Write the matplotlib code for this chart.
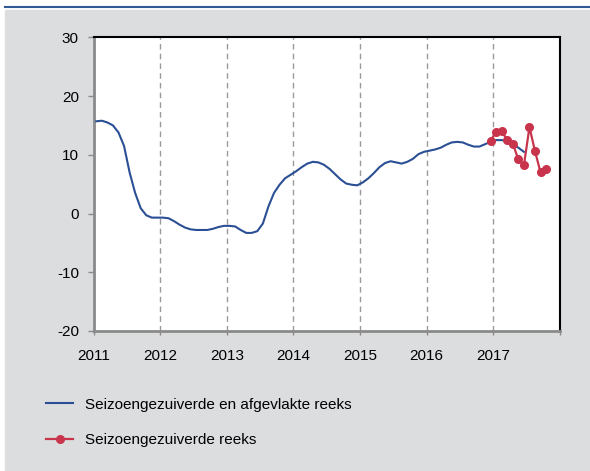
import matplotlib
matplotlib.use("Agg")
import matplotlib.pyplot as plt
from matplotlib.lines import Line2D
from matplotlib.patches import Rectangle
import numpy as np

plt.rcParams["font.family"] = ["Liberation Sans", "DejaVu Sans"]
plt.rcParams["axes.unicode_minus"] = False

# monthly series, plotted mid-month; smoothed series starts Jan 2011
smooth_start = 2011
smooth_vals = [
    15.7, 15.8, 15.5, 15.0, 13.8, 11.5, 7.0, 3.5, 0.9, -0.3, -0.7, -0.7,
    -0.7, -0.8, -1.3, -1.9, -2.4, -2.7, -2.8, -2.8, -2.8, -2.6, -2.3, -2.1,
    -2.1, -2.2, -2.8, -3.3, -3.3, -3.0, -1.7, 1.2, 3.5, 4.9, 6.0, 6.6,
    7.2, 7.9, 8.5, 8.8, 8.7, 8.3, 7.6, 6.7, 5.8, 5.1, 4.9, 4.8,
    5.3, 6.0, 6.9, 7.9, 8.6, 8.9, 8.7, 8.5, 8.8, 9.3, 10.1, 10.5,
    10.7, 10.9, 11.2, 11.7, 12.1, 12.2, 12.1, 11.7, 11.4, 11.4, 11.8, 12.2,
    12.5, 12.5, 12.3, 11.8, 11.2, 10.5,
]
# seasonally adjusted series, Dec 2016 - Oct 2017
raw_start = 2016 + 11 / 12
raw_vals = [12.4, 13.9, 14.0, 12.5, 11.9, 9.2, 8.2, 14.7, 10.6, 7.0, 7.6]

years = [2011, 2012, 2013, 2014, 2015, 2016, 2017]
labels = ["Seizoengezuiverde en afgevlakte reeks", "Seizoengezuiverde reeks"]

blue = "#2b4f94"
red = "#c8344c"
grey_bg = "#dcdddf"

smooth_x = smooth_start + (np.arange(len(smooth_vals)) + 0.5) / 12
raw_x = raw_start + (np.arange(len(raw_vals)) + 0.5) / 12

fig = plt.figure(figsize=(5.9, 4.71), dpi=100, facecolor="white")
fig.patches.append(Rectangle((5 / 590, 0), 585 / 590, 1 - 10 / 471,
                             transform=fig.transFigure, color=grey_bg, zorder=-5))
fig.lines.append(Line2D([5 / 590, 1], [1 - 6.5 / 471] * 2, transform=fig.transFigure,
                        color="#2f5a96", lw=1.5))

ax = fig.add_axes([93.5 / 590, 1 - 331 / 471, 466.5 / 590, 293.7 / 471])
ax.set_facecolor("white")

ax.plot(smooth_x, smooth_vals, color=blue, lw=1.5, zorder=3)
ax.plot(raw_x, raw_vals, color=red, lw=1.6, marker="o", ms=5.5, zorder=4)

for y in years[1:]:
    ax.axvline(y, color="#9a9a9a", lw=1, ls=(0, (4, 3)), zorder=1)

ax.set_xlim(2011, 2018)
ax.set_ylim(-20, 30)
ax.set_yticks(range(-20, 31, 10))
ax.set_xticks(years + [2018])
ax.set_xticklabels([str(y) for y in years] + [""])

for side in ["left", "bottom"]:
    ax.spines[side].set_color("#8a8a8a")
    ax.spines[side].set_linewidth(2)
for side in ["top", "right"]:
    ax.spines[side].set_color("black")
    ax.spines[side].set_linewidth(1.5)

ax.tick_params(axis="y", direction="out", length=4, width=1, color="#8a8a8a",
               labelsize=11, pad=6.5)
ax.tick_params(axis="x", direction="out", length=3, width=1, color="#8a8a8a",
               labelsize=11, pad=10)

handles = [
    Line2D([], [], color=blue, lw=1.5),
    Line2D([], [], color=red, lw=1.6, marker="o", ms=5.5),
]
fig.legend(handles, labels, loc="upper left", bbox_to_anchor=(32 / 590, 1 - 384 / 471),
           frameon=False, fontsize=11, handlelength=1.8, handletextpad=0.75,
           labelspacing=1.4)

fig.savefig("out.png", dpi=100, facecolor="white")
